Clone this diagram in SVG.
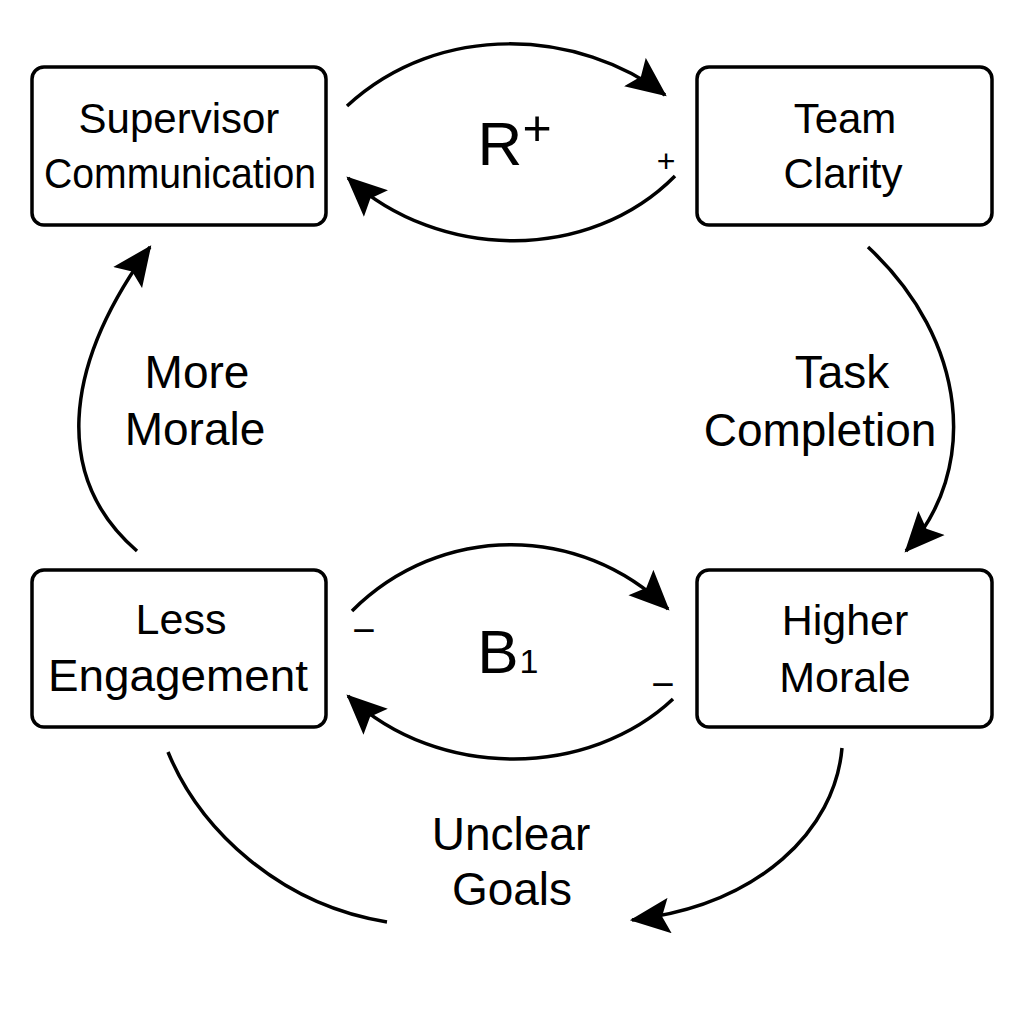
<svg xmlns="http://www.w3.org/2000/svg" width="1024" height="1024" viewBox="0 0 1024 1024">
  <style>
    .box { fill: #ffffff; stroke: #000000; stroke-width: 3.5; }
    .t { font-family: "Liberation Sans", Arial, Helvetica, sans-serif; fill: #000000; text-anchor: middle; }
    .node { font-size: 43px; }
    .lbl { font-size: 46px; }
    .conn { fill: none; stroke: #000000; stroke-width: 3.5; }
  </style>
  <defs>
    <marker id="arr" markerUnits="userSpaceOnUse" markerWidth="40" markerHeight="36" viewBox="0 0 37 33" refX="35" refY="16.5" orient="auto">
      <path d="M0,0 L37,16.5 L0,33 L7,16.5 Z" fill="#000000"/>
    </marker>
  </defs>
  <rect width="1024" height="1024" fill="#ffffff"/>

  <g id="connectors">
    <path class="conn" d="M347,106 C440,20 580,30 665,95" marker-end="url(#arr)"/>
    <path class="conn" d="M675,176 C590,262 440,262 348,178" marker-end="url(#arr)"/>
    <path class="conn" d="M352,611 C440,523 580,523 668,609" marker-end="url(#arr)"/>
    <path class="conn" d="M673,699 C590,777 440,782 348,696" marker-end="url(#arr)"/>
    <path class="conn" d="M137,551 C55,480 60,370 150,247" marker-end="url(#arr)"/>
    <path class="conn" d="M868,247 C968,340 980,470 906,551" marker-end="url(#arr)"/>
    <path class="conn" d="M168,752 C200,830 280,905 387,922"/>
    <path class="conn" d="M842,748 C835,830 760,905 632,920" marker-end="url(#arr)"/>
  </g>

  <g id="node-supervisor-communication">
    <rect class="box" x="32" y="67" width="294" height="158" rx="12"/>
    <text class="t" x="179" y="133" font-size="42">Supervisor</text>
    <text class="t" x="180" y="188" font-size="42" textLength="272" lengthAdjust="spacingAndGlyphs">Communication</text>
  </g>
  <g id="node-team-clarity">
    <rect class="box" x="697" y="67" width="295" height="158" rx="12"/>
    <text class="t" x="845" y="133" font-size="42">Team</text>
    <text class="t" x="843" y="188" font-size="42">Clarity</text>
  </g>
  <g id="node-less-engagement">
    <rect class="box" x="32" y="570" width="294" height="157" rx="12"/>
    <text class="t node" x="181" y="634">Less</text>
    <text class="t" x="178" y="691" font-size="45" textLength="260" lengthAdjust="spacingAndGlyphs">Engagement</text>
  </g>
  <g id="node-higher-morale">
    <rect class="box" x="697" y="570" width="295" height="157" rx="12"/>
    <text class="t node" x="845" y="635">Higher</text>
    <text class="t node" x="845" y="692">Morale</text>
  </g>

  <g id="labels">
    <text class="t" x="500" y="165" font-size="62">R</text>
    <text class="t" x="537" y="145" font-size="50">+</text>
    <text class="t" x="666" y="172" font-size="32">+</text>
    <text class="t" x="498" y="673" font-size="62">B</text>
    <text class="t" x="529" y="673" font-size="34">1</text>
    <text class="t" x="364" y="644" font-size="40">−</text>
    <text class="t" x="663" y="698" font-size="40">−</text>
    <text class="t lbl" x="197" y="388">More</text>
    <text class="t lbl" x="195" y="445">Morale</text>
    <text class="t lbl" x="842" y="388">Task</text>
    <text class="t lbl" x="820" y="446">Completion</text>
    <text class="t lbl" x="511" y="850">Unclear</text>
    <text class="t lbl" x="512" y="905">Goals</text>
  </g>
</svg>
